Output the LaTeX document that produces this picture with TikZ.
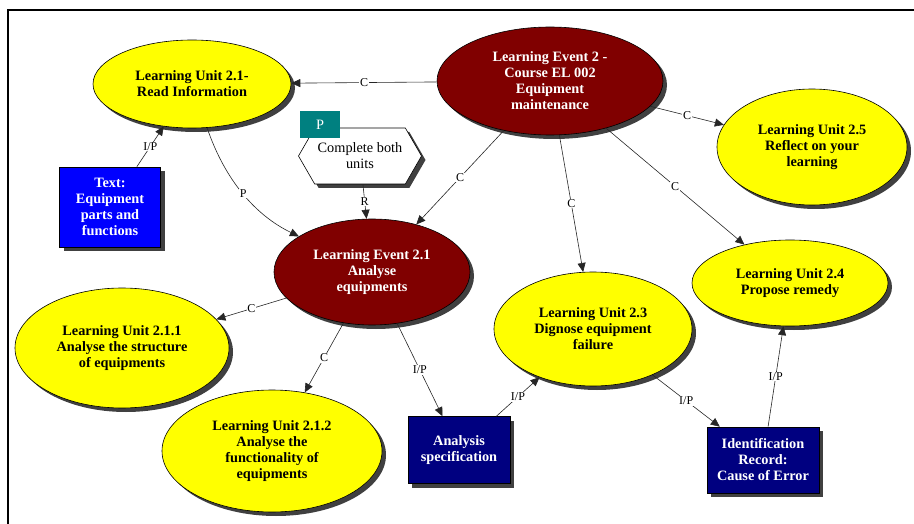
\documentclass[tikz,border=0pt]{standalone}
\usepackage{fontspec}
\setmainfont{Liberation Serif}
\usetikzlibrary{shapes.geometric,shapes.symbols,shadows,arrows.meta}
\definecolor{evred}{HTML}{800000}
\definecolor{unityel}{HTML}{FFFF00}
\definecolor{txtblue}{HTML}{0000FF}
\definecolor{navybox}{HTML}{000080}
\definecolor{tagteal}{HTML}{008080}
\definecolor{shadowgray}{HTML}{404040}
\tikzset{
  shad/.style={drop shadow={shadow xshift=4pt,shadow yshift=-4pt,fill=shadowgray,opacity=1}},
  nodefont/.style={font=\fontsize{14.3}{16}\selectfont\bfseries, align=center},
  event/.style={ellipse, draw=black, line width=0.6pt, fill=evred, text=white, inner sep=0pt, shad, nodefont},
  unit/.style={ellipse, draw=black, line width=0.6pt, fill=unityel, text=black, inner sep=0pt, shad, nodefont},
  resbox/.style={rectangle, draw=black, line width=0.6pt, text=white, inner sep=0pt, shad, nodefont},
  conn/.style={draw=black!85, line width=0.6pt, -{Triangle[length=9pt,width=8pt]}},
  lbl/.style={fill=white, inner sep=0.8pt, font=\fontsize{12}{13}\selectfont, text=black}
}
\begin{document}
\begin{tikzpicture}[x=1pt,y=-1pt]
\useasboundingbox (0,0) rectangle (914,524);
\draw[line width=1.2pt] (8,524) -- (8,10) -- (914,10);

% nodes
\node[unit, minimum width=198pt, minimum height=88pt] (lu21) at (192,84) {Learning Unit 2.1-\\Read Information};
\node[event, minimum width=226pt, minimum height=108pt] (le2) at (550,81) {Learning Event 2 -\\Course EL 002\\Equipment\\maintenance};
\node[unit, minimum width=190pt, minimum height=116pt] (lu25) at (812,147) {Learning Unit 2.5\\Reflect on your\\learning};
\node[resbox, fill=txtblue, minimum width=101pt, minimum height=80pt] (txt) at (110,207) {Text:\\Equipment\\parts and\\functions};
\node[signal, signal to=west and east, signal pointer angle=120, draw=black, line width=0.6pt, fill=white, shad,
      minimum width=123pt, minimum height=56pt, inner sep=0pt, align=center, font=\fontsize{14.3}{16}\selectfont] (hex) at (360,156) {Complete both\\units};
\node[rectangle, fill=tagteal, text=white, minimum width=40pt, minimum height=27pt, inner sep=0pt, font=\fontsize{14.3}{16}\selectfont] (tag) at (320,124.5) {P};
\node[event, minimum width=196pt, minimum height=106pt] (le21) at (372,272) {Learning Event 2.1\\Analyse\\equipments};
\node[unit, minimum width=214pt, minimum height=120pt] (lu211) at (122,348) {Learning Unit 2.1.1\\Analyse the structure\\of equipments};
\node[unit, minimum width=220pt, minimum height=122pt] (lu212) at (272,451) {Learning Unit 2.1.2\\Analyse the\\functionality of\\equipments};
\node[resbox, fill=navybox, minimum width=102pt, minimum height=67pt] (anal) at (459,450) {Analysis\\specification};
\node[unit, minimum width=198pt, minimum height=114pt] (lu23) at (593,329) {Learning Unit 2.3\\Dignose equipment\\failure};
\node[unit, minimum width=196pt, minimum height=86pt] (lu24) at (790,283) {Learning Unit 2.4\\Propose remedy};
\node[resbox, fill=navybox, minimum width=112pt, minimum height=66pt] (ident) at (763,460) {Identification\\Record:\\Cause of Error};

% connectors
\draw[conn] (le2) -- node[lbl] {C} (lu21);
\draw[conn] (le2) -- node[lbl] {C} (lu25);
\draw[conn] (le2) -- node[lbl] {C} (le21);
\draw[conn] (le2) -- node[lbl] {C} (lu23);
\draw[conn] (le2) -- node[lbl] {C} (lu24);
\draw[conn] (txt) -- node[lbl] {I/P} (lu21);
\draw[conn] (lu21) .. controls (225,180) and (255,215) .. node[lbl] {P} (le21);
\draw[conn] (hex) -- node[lbl] {R} (le21);
\draw[conn] (le21) -- node[lbl] {C} (lu211);
\draw[conn] (le21) -- node[lbl] {C} (lu212);
\draw[conn] (le21) -- node[lbl] {I/P} (anal);
\draw[conn] (anal) -- node[lbl] {I/P} (lu23);
\draw[conn] (lu23) -- node[lbl] {I/P} (ident);
\draw[conn] (ident) -- node[lbl] {I/P} (lu24);
\end{tikzpicture}
\end{document}
